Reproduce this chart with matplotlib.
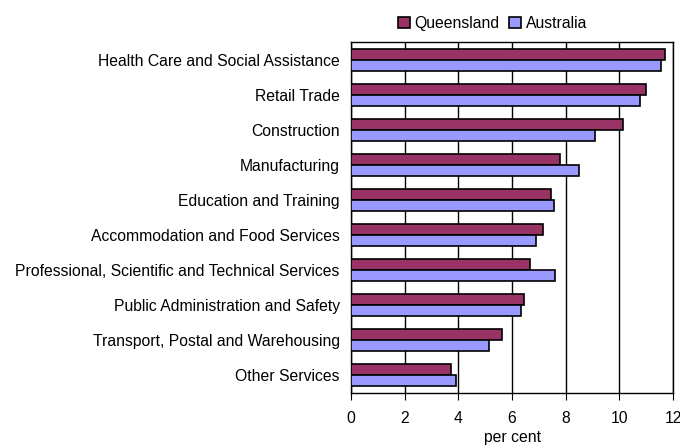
import matplotlib
matplotlib.use("Agg")
import matplotlib.pyplot as plt
import numpy as np

plt.rcParams["font.family"] = ["Liberation Sans", "DejaVu Sans"]

industries = [
    "Health Care and Social Assistance",
    "Retail Trade",
    "Construction",
    "Manufacturing",
    "Education and Training",
    "Accommodation and Food Services",
    "Professional, Scientific and Technical Services",
    "Public Administration and Safety",
    "Transport, Postal and Warehousing",
    "Other Services",
]
queensland = [11.70, 10.99, 10.14, 7.77, 7.44, 7.17, 6.67, 6.46, 5.64, 3.72]
australia = [11.54, 10.77, 9.08, 8.48, 7.56, 6.88, 7.60, 6.34, 5.16, 3.93]
xticks = [0, 2, 4, 6, 8, 10, 12]

fs = 11.3

fig = plt.figure(figsize=(6.8, 4.48), dpi=100)
ax = fig.add_axes([0.516, 0.123, 0.474, 0.783])

pos = np.arange(len(industries))
h = 0.31
ax.barh(pos - h / 2, queensland, height=h, color="#993366",
        edgecolor="black", linewidth=1.2, label="Queensland", zorder=3)
ax.barh(pos + h / 2, australia, height=h, color="#9999FF",
        edgecolor="black", linewidth=1.2, label="Australia", zorder=3)

ax.set_ylim(len(industries) - 0.5, -0.5)
ax.set_yticks(pos)
ax.set_yticklabels(industries, fontsize=fs)
ax.tick_params(axis="y", length=0, pad=8)

ax.set_xlim(0, 12)
ax.set_xticks(xticks)
ax.set_xticklabels([str(t) for t in xticks], fontsize=fs)
ax.tick_params(axis="x", length=5, direction="out", pad=8)
ax.set_xlabel("per cent", fontsize=fs, labelpad=3)

ax.grid(axis="x", color="black", linewidth=1, zorder=0)
for s in ax.spines.values():
    s.set_color("black")
    s.set_linewidth(1)

ax.legend(loc="lower center", bbox_to_anchor=(0.44, 1.0), ncol=2,
          frameon=False, fontsize=fs, handlelength=0.75, handleheight=0.75,
          handletextpad=0.3, columnspacing=0.6, borderaxespad=0.3)

fig.savefig("out.png", dpi=100)
